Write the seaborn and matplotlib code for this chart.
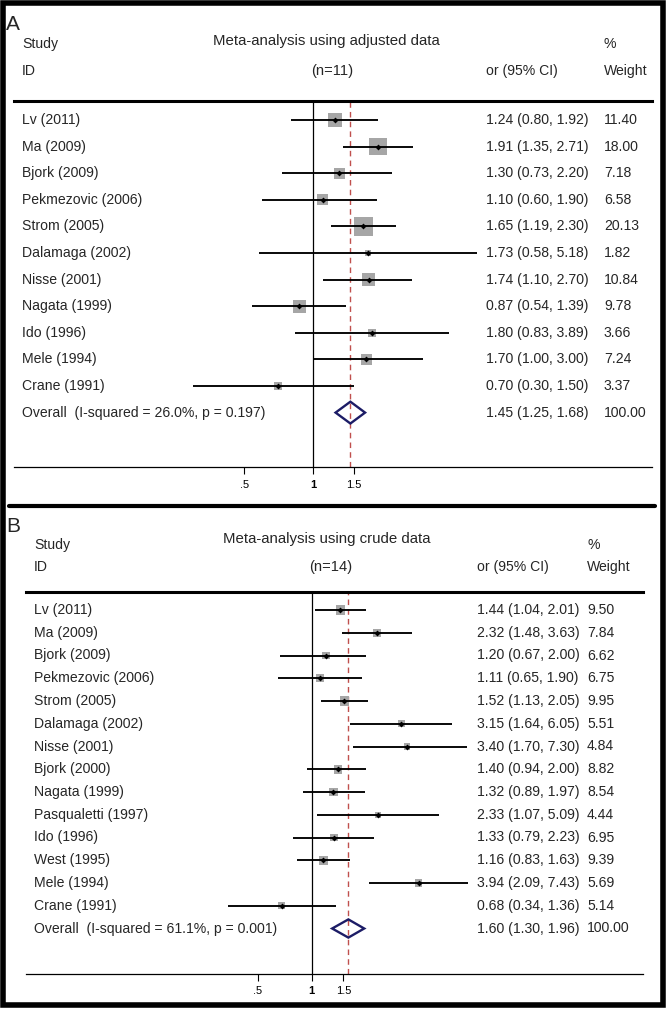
import numpy as np
import pandas as pd
import seaborn as sns
import matplotlib.pyplot as plt
import matplotlib.transforms as mtransforms
from matplotlib.patches import Polygon, Rectangle
from matplotlib.lines import Line2D
from matplotlib.ticker import NullLocator

# -----------------------------
# DATA
# -----------------------------
a_study = ["Lv (2011)", "Ma (2009)", "Bjork (2009)", "Pekmezovic (2006)", "Strom (2005)",
           "Dalamaga (2002)", "Nisse (2001)", "Nagata (1999)", "Ido (1996)", "Mele (1994)",
           "Crane (1991)"]
a_or = [1.24, 1.91, 1.30, 1.10, 1.65, 1.73, 1.74, 0.87, 1.80, 1.70, 0.70]
a_lo = [0.80, 1.35, 0.73, 0.60, 1.19, 0.58, 1.10, 0.54, 0.83, 1.00, 0.30]
a_hi = [1.92, 2.71, 2.20, 1.90, 2.30, 5.18, 2.70, 1.39, 3.89, 3.00, 1.50]
a_weight = [11.40, 18.00, 7.18, 6.58, 20.13, 1.82, 10.84, 9.78, 3.66, 7.24, 3.37]
a_overall = [1.45, 1.25, 1.68]
a_overall_label = "Overall  (I-squared = 26.0%, p = 0.197)"

b_study = ["Lv (2011)", "Ma (2009)", "Bjork (2009)", "Pekmezovic (2006)", "Strom (2005)",
           "Dalamaga (2002)", "Nisse (2001)", "Bjork (2000)", "Nagata (1999)",
           "Pasqualetti (1997)", "Ido (1996)", "West (1995)", "Mele (1994)", "Crane (1991)"]
b_or = [1.44, 2.32, 1.20, 1.11, 1.52, 3.15, 3.40, 1.40, 1.32, 2.33, 1.33, 1.16, 3.94, 0.68]
b_lo = [1.04, 1.48, 0.67, 0.65, 1.13, 1.64, 1.70, 0.94, 0.89, 1.07, 0.79, 0.83, 2.09, 0.34]
b_hi = [2.01, 3.63, 2.00, 1.90, 2.05, 6.05, 7.30, 2.00, 1.97, 5.09, 2.23, 1.63, 7.43, 1.36]
b_weight = [9.50, 7.84, 6.62, 6.75, 9.95, 5.51, 4.84, 8.82, 8.54, 4.44, 6.95, 9.39, 5.69, 5.14]
b_overall = [1.60, 1.30, 1.96]
b_overall_label = "Overall  (I-squared = 61.1%, p = 0.001)"

tick_vals = [0.5, 1, 1.5]
tick_labels = [".5", "1", "1.5"]

# -----------------------------
# STYLE
# -----------------------------
sns.set_theme(style="white")
plt.rcParams["font.family"] = ["Liberation Sans", "DejaVu Sans"]

W, H = 671, 1011
fig = plt.figure(figsize=(W / 100, H / 100), dpi=100)
fig.patch.set_facecolor("white")


def fx(px):
    return px / W


def fy(py):
    return 1 - py / H


SQ = "#a6a6a6"
NAVY = "#1c1c66"
RED = "#c0504d"
FS = 10.1


def draw_panel(p, study, orr, lo, hi, weight, overall, overall_label):
    n = len(study)
    rows = list(range(n))
    ov_row = n

    # axes spans header line (top) to x axis (bottom)
    ax = fig.add_axes([fx(p["left"]), fy(p["axis"]),
                       fx(p["right"] - p["left"]), (p["axis"] - p["header"]) / H])
    ax.set_xscale("log")
    one = p["one"]
    ppl = p["ppl"]
    ax.set_xlim(np.exp((p["left"] - one) / ppl), np.exp((p["right"] - one) / ppl))
    ax.set_ylim((p["axis"] - p["row0"]) / p["dy"], (p["header"] - p["row0"]) / p["dy"])

    df = pd.DataFrame({"or": orr, "lo": lo, "hi": hi, "weight": weight, "row": rows})
    k = p["k"]
    wmin, wmax = min(weight), max(weight)
    sns.scatterplot(data=df, x="or", y="row", size="weight",
                    sizes=(k * wmin, k * wmax), size_norm=(wmin, wmax),
                    marker="s", color=SQ, linewidth=0, legend=False, ax=ax, zorder=2)
    ax.hlines(df["row"], df["lo"], df["hi"], color="black", lw=1.35, zorder=3)
    sns.scatterplot(data=df, x="or", y="row", marker="D", s=9, color="black",
                    linewidth=0, legend=False, ax=ax, zorder=4)

    ax.axvline(1, color="black", lw=0.9, zorder=1)
    ax.axvline(overall[0], color=RED, lw=1.0, ls=(0, (4, 3)), zorder=1)

    est, olo, ohi = overall
    h = p["dh"]
    diamond = Polygon([(olo, ov_row), (est, ov_row - h), (ohi, ov_row), (est, ov_row + h)],
                      closed=True, fill=False, edgecolor=NAVY, lw=1.7, zorder=5)
    ax.add_patch(diamond)

    ax.set_xticks(tick_vals)
    ax.set_xticklabels(tick_labels)
    ax.xaxis.set_minor_locator(NullLocator())
    ax.tick_params(axis="x", direction="out", length=5, width=0.8, labelsize=8,
                   pad=4, bottom=True, colors="black")
    ax.get_xticklabels()[1].set_fontweight("bold")
    ax.set_yticks([])
    ax.set_xlabel("")
    ax.set_ylabel("")
    for side in ["left", "right"]:
        ax.spines[side].set_visible(False)
    ax.spines["top"].set_linewidth(2.2)
    ax.spines["top"].set_color("black")
    ax.spines["bottom"].set_linewidth(0.9)
    ax.spines["bottom"].set_color("black")

    # row text
    tr = mtransforms.blended_transform_factory(fig.transFigure, ax.transData)
    for i in range(n):
        ax.text(fx(p["x_study"]), i, study[i], transform=tr, va="center", ha="left",
                fontsize=FS, clip_on=False)
        ax.text(fx(p["x_es"]), i, f"{orr[i]:.2f} ({lo[i]:.2f}, {hi[i]:.2f})",
                transform=tr, va="center", ha="left", fontsize=FS, clip_on=False)
        ax.text(fx(p["x_w"]), i, f"{weight[i]:.2f}", transform=tr, va="center",
                ha="left", fontsize=FS, clip_on=False)
    ax.text(fx(p["x_study"]), ov_row, overall_label, transform=tr, va="center",
            ha="left", fontsize=FS, clip_on=False)
    ax.text(fx(p["x_es"]), ov_row, f"{est:.2f} ({olo:.2f}, {ohi:.2f})", transform=tr,
            va="center", ha="left", fontsize=FS, clip_on=False)
    ax.text(fx(p["x_w"]), ov_row, "100.00", transform=tr, va="center", ha="left",
            fontsize=FS, clip_on=False)

    # header text
    fig.text(fx(6), fy(p["y_letter"]), p["letter"], fontsize=15, va="center", ha="left")
    fig.text(fx(p["x_study"]), fy(p["y_h1"]), "Study", fontsize=FS, va="center")
    fig.text(fx(p["x_study"]), fy(p["y_h2"]), "ID", fontsize=FS, va="center")
    fig.text(fx(p["x_title"]), fy(p["y_title"]), p["title"], fontsize=10.8,
             va="center", ha="center")
    fig.text(fx(p["x_n"]), fy(p["y_h2"]), p["n"], fontsize=10.6, va="center", ha="center")
    fig.text(fx(p["x_es"]), fy(p["y_h2"]), "or (95% CI)", fontsize=FS, va="center")
    fig.text(fx(p["x_w"]), fy(p["y_h1"]), "%", fontsize=FS, va="center")
    fig.text(fx(p["x_w"]), fy(p["y_h2"]), "Weight", fontsize=FS, va="center")
    return ax


panel_a = dict(left=14, right=652, header=101, axis=467, row0=120, dy=26.6,
               one=313.3, ppl=99.8, k=9.1, dh=0.41,
               x_study=22, x_es=486, x_w=604, y_letter=24, y_h1=44, y_h2=71,
               x_title=326, y_title=41, x_n=332, letter="A",
               title="Meta-analysis using adjusted data", n="(n=11)")
panel_b = dict(left=26, right=643, header=592, axis=974, row0=610, dy=22.75,
               one=311.7, ppl=78.0, k=4.5, dh=0.40,
               x_study=34, x_es=477, x_w=587, y_letter=527, y_h1=545, y_h2=567,
               x_title=327, y_title=539, x_n=331, letter="B",
               title="Meta-analysis using crude data", n="(n=14)")

draw_panel(panel_a, a_study, a_or, a_lo, a_hi, a_weight, a_overall, a_overall_label)
draw_panel(panel_b, b_study, b_or, b_lo, b_hi, b_weight, b_overall, b_overall_label)

# outer frame and separator between the panels
fig.patches.append(Rectangle((fx(2.5), fy(1004.5)), fx(660.5), (1004.5 - 2.5) / H,
                             transform=fig.transFigure, fill=False,
                             edgecolor="black", lw=4.0, zorder=10))
fig.lines.append(Line2D([fx(9), fx(655)], [fy(505.5), fy(505.5)],
                        transform=fig.transFigure, color="black", lw=3.0, zorder=10))

fig.savefig("out.png", dpi=100, facecolor="white")
